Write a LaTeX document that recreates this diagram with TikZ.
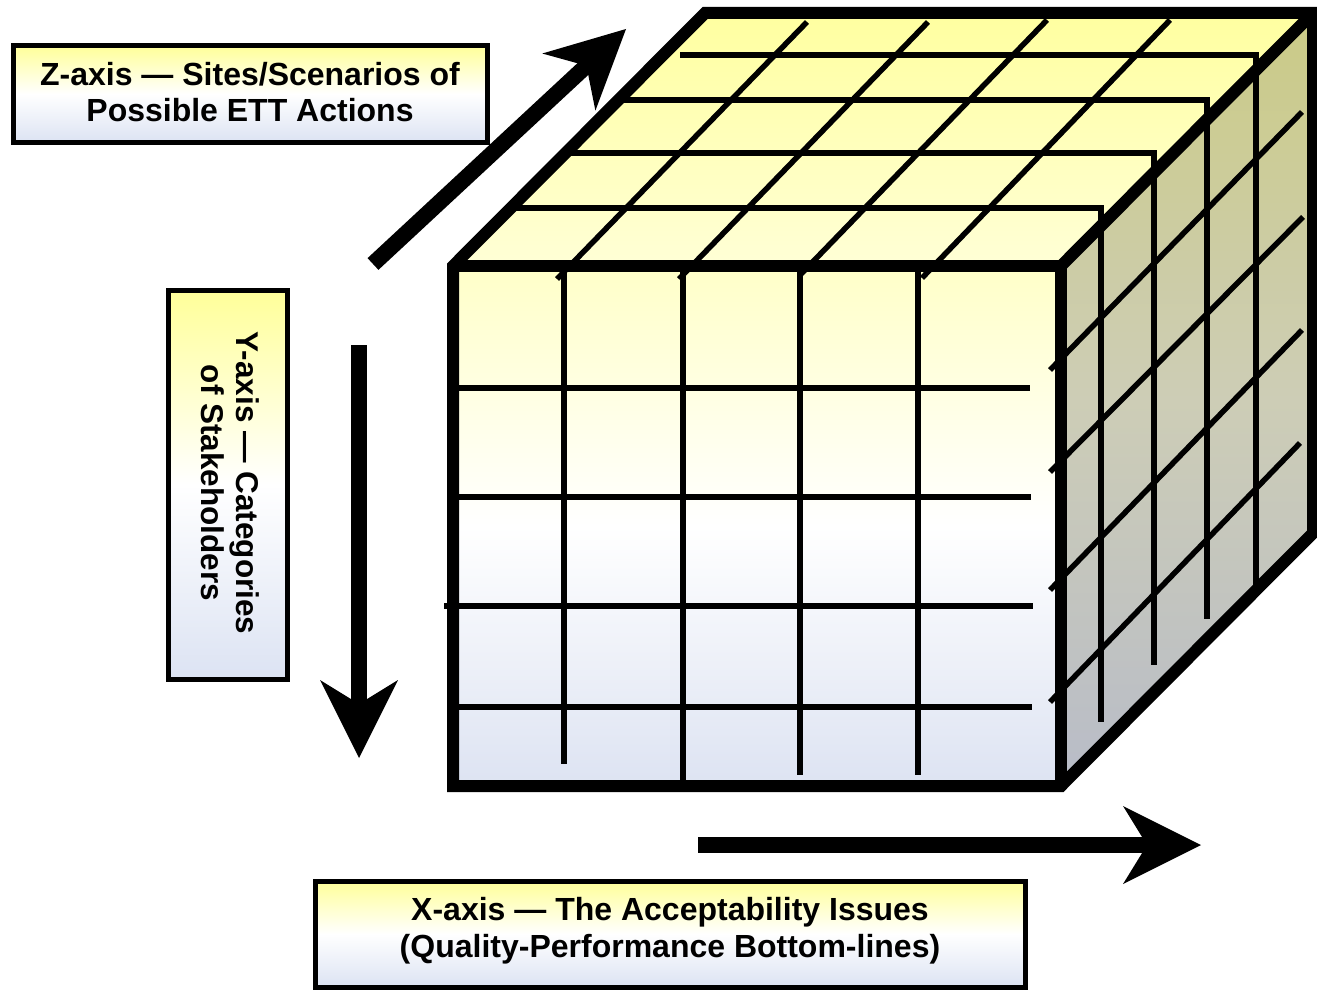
\documentclass[tikz,border=0pt]{standalone}
\usepackage{fontspec}
\setmainfont{Liberation Sans}
\usetikzlibrary{calc}
\definecolor{topA}{HTML}{FFFFA0}
\definecolor{topB}{HTML}{FFFFD6}
\definecolor{frA}{HTML}{FFFFC8}
\definecolor{frC}{HTML}{DDE3F2}
\definecolor{rtA}{HTML}{CBCB86}
\definecolor{rtM}{HTML}{CDCDB6}
\definecolor{rtB}{HTML}{B8BCC8}
\definecolor{bxA}{HTML}{FFFF99}
\definecolor{bxC}{HTML}{DCE3F3}
\tikzset{
  gridln/.style={line width=5.5pt, line cap=butt, line join=miter},
  cubeedge/.style={line width=12pt, line join=miter},
  labelbox/.style={draw=black, line width=5pt, top color=bxA, bottom color=bxC, middle color=white},
  labeltext/.style={font=\fontsize{32}{36}\selectfont\bfseries, anchor=base, inner sep=0pt},
  shaftln/.style={line width=16pt, line cap=butt}
}
\begin{document}
\begin{tikzpicture}[x=1pt,y=-1pt]
\useasboundingbox (0,0) rectangle (1317,990);

% cube corners
\coordinate (FL) at (453,266);
\coordinate (FR) at (1061,266);
\coordinate (BL) at (1061,786);
\coordinate (LB) at (453,786);
\coordinate (TL) at (705,13);
\coordinate (TR) at (1313,13);
\coordinate (RB) at (1313,533);

% faces
\shade[top color=topA, bottom color=topB] (FL) -- (TL) -- (TR) -- (FR) -- cycle;
\shade[top color=frA, bottom color=frC, middle color=white] (FL) rectangle (BL);
\shade[top color=rtA, bottom color=rtB, middle color=rtM] (FR) -- (TR) -- (RB) -- (BL) -- cycle;

% front face grid
\draw[gridln] (564,272) -- (564,764);
\draw[gridln] (683,272) -- (683,786);
\draw[gridln] (800,272) -- (800,775);
\draw[gridln] (918,272) -- (918,775);
\draw[gridln] (447,388) -- (1030,388);
\draw[gridln] (453,497) -- (1031,497);
\draw[gridln] (444,606) -- (1033,606);
\draw[gridln] (453,707) -- (1032,707);

% top face grid (depth lines continuing down the right face)
\draw[gridln] (680,55) -- (1256,55) -- (1256,585);
\draw[gridln] (620,100) -- (1207,100) -- (1207,619);
\draw[gridln] (567,153) -- (1154,153) -- (1154,665);
\draw[gridln] (511,208) -- (1101,208) -- (1101,722);
% top face diagonals
\draw[gridln] (807,22) -- (557,279);
\draw[gridln] (928,22) -- (679,279);
\draw[gridln] (1047,20) -- (801,274);
\draw[gridln] (1170,20) -- (922,278);

% right face diagonals
\draw[gridln] (1050,370) -- (1302,112);
\draw[gridln] (1050,472) -- (1303,217);
\draw[gridln] (1050,590) -- (1302,330);
\draw[gridln] (1050,702) -- (1300,443);

% cube outline
\draw[cubeedge] (LB) -- (FL) -- (TL) -- (TR) -- (RB) -- (BL) -- cycle;
\draw[cubeedge] (FL) -- (FR) -- (BL);
\draw[cubeedge] (FR) -- (TR);

% arrows
\coordinate (zt) at (373,264);
\coordinate (zh) at (626,29);
\coordinate (yt) at (359,345);
\coordinate (yh) at (359,758);
\coordinate (xt) at (698,845);
\coordinate (xh) at (1201,845);
\foreach \t/\h in {zt/zh, yt/yh, xt/xh}{
  \coordinate (hb) at ($(\h)!78pt!(\t)$);
  \coordinate (hn) at ($(\h)!54pt!(\t)$);
  \coordinate (hs) at ($(\h)!50pt!(\t)$);
  \coordinate (w1) at ($(hb)!39pt!90:(\h)$);
  \coordinate (w2) at ($(hb)!39pt!-90:(\h)$);
  \draw[shaftln] (\t) -- (hs);
  \fill (\h) -- (w1) -- (hn) -- (w2) -- cycle;
}

% label boxes
\path[labelbox] (13,46) rectangle (487,142);
\node[labeltext] (zl1) at (250,85) {Z-axis — Sites/Scenarios of};
\node[labeltext] (zl2) at (250,121) {Possible ETT Actions};

\path[labelbox] (168,290) rectangle (287,679);
\node[labeltext, font=\fontsize{31.5}{36}\selectfont\bfseries, rotate=-90] (yl1) at (236,483) {Y-axis — Categories};
\node[labeltext, font=\fontsize{31.5}{36}\selectfont\bfseries, rotate=-90] (yl2) at (201,483) {of Stakeholders};

\path[labelbox] (315,881) rectangle (1025,987);
\node[labeltext] (xl1) at (670,920) {X-axis — The Acceptability Issues};
\node[labeltext] (xl2) at (670,957) {(Quality-Performance Bottom-lines)};
\end{tikzpicture}
\end{document}
